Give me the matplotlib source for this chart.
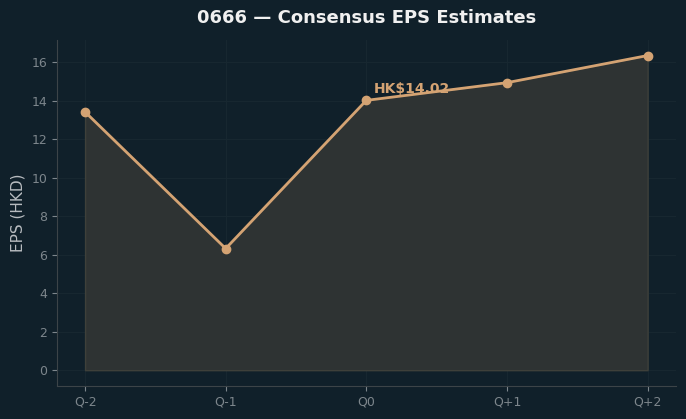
import matplotlib.pyplot as plt

quarters = ["Q-2", "Q-1", "Q0", "Q+1", "Q+2"]
eps = [13.42, 6.32, 14.02, 14.94, 16.35]
current_label = "HK$14.02"

bg = "#10202a"
line_color = "#d4a373"

fig, ax = plt.subplots(figsize=(6.86, 4.19), dpi=100)
fig.patch.set_facecolor(bg)
ax.set_facecolor(bg)

x = list(range(len(quarters)))
ax.fill_between(x, eps, 0, color="#2e3333", edgecolor="#3e403a", linewidth=1)
ax.plot(x, eps, color=line_color, linewidth=2, marker="o", markersize=6)
ax.annotate(current_label, (2, eps[2]), xytext=(5, 5), textcoords="offset points",
            color=line_color, fontsize=10, fontweight="bold")

ax.set_xticks(x)
ax.set_xticklabels(quarters)
ax.set_title("0666 — Consensus EPS Estimates", color="#f0f0f0", fontsize=13,
             fontweight="bold", pad=12)
ax.set_ylabel("EPS (HKD)", color="#b8bcc0", fontsize=11)
ax.tick_params(colors="#7d868c", labelsize=9)
ax.grid(True, color="#172730", linewidth=0.8)
ax.set_axisbelow(True)
for s in ["top", "right"]:
    ax.spines[s].set_visible(False)
for s in ["left", "bottom"]:
    ax.spines[s].set_color("#3c4448")

fig.subplots_adjust(left=0.083, right=0.985, bottom=0.079, top=0.905)
fig.savefig("out.png", facecolor=bg)
